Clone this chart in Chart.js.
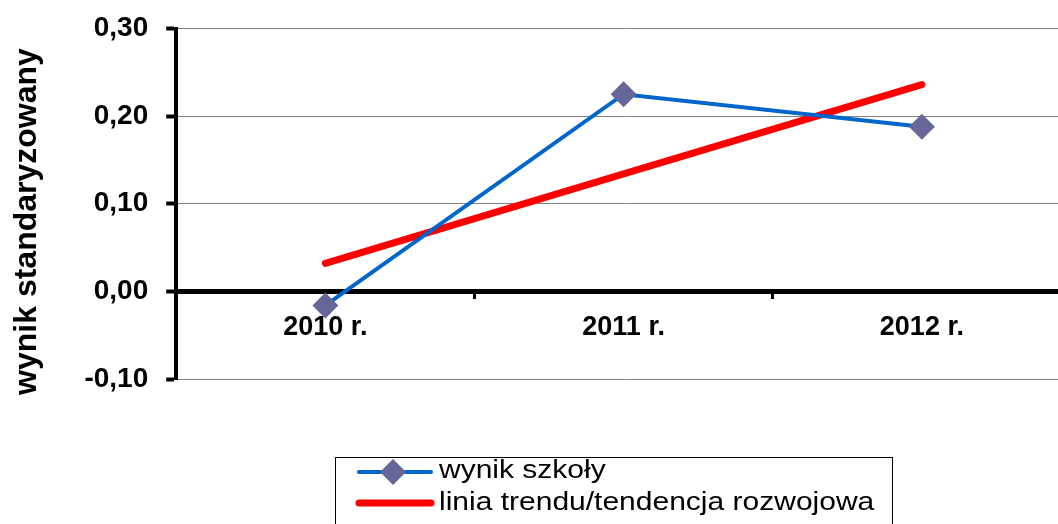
<!DOCTYPE html>
<html>
<head>
<meta charset="utf-8">
<script src="https://cdn.jsdelivr.net/npm/chart.js@4/dist/chart.umd.min.js"></script>
<style>
  html, body { margin: 0; padding: 0; background: #fff; overflow: hidden; }
  #wrap { position: relative; width: 1084px; height: 524px; }
</style>
</head>
<body>
<div id="wrap"><canvas id="wykres"></canvas></div>
<script>
const lata = ['2010 r.', '2011 r.', '2012 r.'];
const wynikSzkoly = [-0.016, 0.225, 0.188];
const liniaTrendu = [0.032, 0.134, 0.236];
const nazwySerii = ['wynik szkoły', 'linia trendu/tendencja rozwojowa'];

const czcionka = '"Liberation Sans", Arial, sans-serif';

// legenda w ramce pod wykresem
const legendaRamka = {
  id: 'legendaRamka',
  afterDraw(chart) {
    const c = chart.ctx;
    const ds = chart.data.datasets;
    c.save();
    c.strokeStyle = '#000';
    c.lineWidth = 1;
    c.strokeRect(335.5, 457.5, 557, 80);

    c.lineCap = 'round';
    c.strokeStyle = ds[0].borderColor;
    c.lineWidth = 4;
    c.beginPath(); c.moveTo(359, 472); c.lineTo(431, 472); c.stroke();
    c.fillStyle = ds[0].pointBackgroundColor;
    c.beginPath();
    c.moveTo(393, 459); c.lineTo(406, 472); c.lineTo(393, 485); c.lineTo(380, 472);
    c.closePath(); c.fill();

    c.strokeStyle = ds[1].borderColor;
    c.lineWidth = 7;
    c.beginPath(); c.moveTo(359, 503); c.lineTo(431, 503); c.stroke();

    // tekst legendy lekko rozciagniety w poziomie jak w oryginale
    c.fillStyle = '#000';
    c.font = '25px ' + czcionka;
    c.textBaseline = 'middle';
    c.translate(439, 0);
    c.scale(1.2, 1);
    c.fillText(ds[0].label, 0, 471);
    c.fillText(ds[1].label, 0, 503);
    c.restore();
  }
};

const ctx = document.getElementById('wykres');

new Chart(ctx, {
  type: 'line',
  data: {
    labels: lata,
    datasets: [{
      label: nazwySerii[0],
      data: wynikSzkoly,
      borderColor: '#0066CC',
      borderWidth: 4,
      pointStyle: 'rectRot',
      pointRadius: 13,
      pointBackgroundColor: '#666699',
      pointBorderColor: '#666699',
      pointBorderWidth: 0,
      tension: 0,
      order: 1
    }, {
      label: nazwySerii[1],
      data: liniaTrendu,
      borderColor: '#FF0000',
      borderWidth: 7,
      borderCapStyle: 'round',
      pointRadius: 0,
      tension: 0,
      order: 2
    }]
  },
  options: {
    responsive: true,
    maintainAspectRatio: false,
    animation: false,
    layout: {
      padding: { top: 10, right: 3, bottom: 145, left: 8 }
    },
    plugins: {
      legend: { display: false },
      tooltip: { enabled: false }
    },
    scales: {
      x: {
        position: { y: 0 },
        offset: true,
        grid: {
          offset: true,
          drawOnChartArea: false,
          drawTicks: true,
          tickLength: 8,
          tickColor: '#000',
          tickWidth: 3
        },
        border: { display: false },
        ticks: {
          color: '#000',
          padding: 12,
          font: { size: 27, weight: 'bold', family: czcionka }
        }
      },
      y: {
        min: -0.1,
        max: 0.3,
        grid: {
          color: (c) => c.tick && Math.abs(c.tick.value) < 1e-9 ? '#000' : '#808080',
          lineWidth: (c) => c.tick && Math.abs(c.tick.value) < 1e-9 ? 5 : 1,
          tickColor: '#000',
          tickWidth: 4,
          tickLength: 10
        },
        border: { color: '#000', width: 4 },
        ticks: {
          stepSize: 0.1,
          color: '#000',
          padding: 18,
          // nizsza wysokosc linii = mniejszy odstep nad wykresem
          font: { size: 28, weight: 'bold', family: czcionka, lineHeight: 0.75 },
          callback: (v) => v.toFixed(2).replace('.', ',')
        },
        title: {
          display: true,
          // spacje na koncu przesuwaja napis w dol, jak w oryginale
          text: 'wynik standaryzowany    ',
          color: '#000',
          padding: { top: 0, bottom: 20 },
          font: { size: 32, weight: 'bold', family: czcionka }
        }
      }
    }
  },
  plugins: [legendaRamka]
});
</script>
</body>
</html>
